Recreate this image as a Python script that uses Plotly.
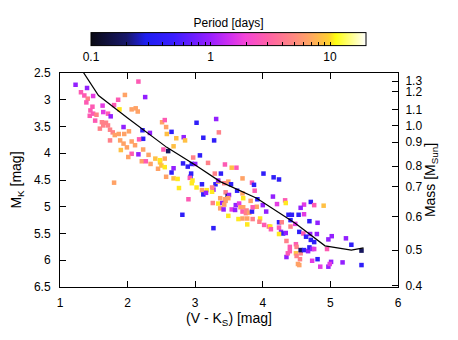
import numpy as np
import plotly.graph_objects as go

# colour classes -> rotation period in days
P = dict(n=0.18, b=0.40, v=0.95, m=1.7, p=2.7, s=4.5, o=6.5, yo=8.5, y=10.5)

stars = [
    (1.23, 2.72, "v"), (1.40, 2.78, "v"), (2.16, 2.66, "p"), (1.31, 2.86, "p"), (1.36, 2.92, "p"),
    (1.49, 2.93, "m"), (1.41, 2.98, "s"), (1.39, 3.05, "p"), (1.96, 2.91, "o"), (2.26, 2.95, "v"),
    (1.86, 3.00, "p"), (1.48, 3.13, "p"), (1.63, 3.11, "m"), (1.80, 3.10, "p"), (1.88, 3.18, "y"),
    (2.06, 3.18, "o"), (2.12, 3.16, "o"), (2.15, 3.22, "o"), (1.45, 3.20, "p"), (1.49, 3.26, "p"),
    (1.54, 3.28, "s"), (1.44, 3.30, "p"), (1.64, 3.23, "m"), (1.71, 3.26, "p"), (1.75, 3.31, "v"),
    (1.52, 3.39, "p"), (1.62, 3.42, "s"), (1.68, 3.43, "s"), (1.71, 3.48, "s"), (1.64, 3.48, "s"),
    (1.59, 3.54, "s"), (1.94, 3.51, "v"), (1.74, 3.56, "s"), (1.78, 3.61, "s"), (1.81, 3.66, "o"),
    (1.87, 3.64, "o"), (1.95, 3.64, "o"), (2.02, 3.59, "o"), (2.22, 3.57, "b"), (2.33, 3.62, "v"),
    (2.23, 3.73, "b"), (2.17, 3.74, "p"), (2.51, 3.42, "o"), (2.55, 3.38, "p"), (2.57, 3.51, "o"),
    (2.58, 3.64, "yo"), (1.74, 3.76, "s"), (1.89, 3.76, "o"), (1.94, 3.82, "o"), (2.06, 3.78, "o"),
    (2.11, 3.85, "o"), (1.99, 3.89, "o"), (1.90, 3.94, "yo"), (2.06, 4.01, "p"), (2.16, 4.02, "v"),
    (2.23, 3.93, "o"), (2.01, 4.07, "o"), (2.21, 4.15, "o"), (2.31, 4.03, "o"), (2.41, 4.10, "yo"),
    (2.27, 4.15, "p"), (2.34, 4.20, "o"), (2.48, 4.17, "yo"), (2.55, 4.10, "o"), (2.45, 4.29, "o"),
    (2.50, 4.23, "yo"), (2.60, 3.96, "n"), (2.53, 3.93, "p"), (1.80, 4.55, "o"),
    (2.65, 3.60, "b"), (3.02, 3.43, "b"), (3.31, 3.36, "v"), (3.35, 3.61, "s"), (2.83, 3.70, "v"),
    (2.85, 3.76, "yo"), (2.72, 3.72, "yo"), (3.12, 3.71, "b"), (3.28, 3.76, "b"), (2.68, 3.87, "yo"),
    (2.97, 4.08, "s"), (3.07, 4.04, "b"), (3.19, 4.18, "s"), (3.44, 4.21, "p"), (3.54, 4.27, "yo"),
    (3.61, 4.27, "p"), (2.82, 4.19, "b"), (2.89, 4.25, "b"), (2.95, 4.20, "b"), (3.00, 4.20, "v"),
    (2.68, 4.28, "v"), (2.65, 4.36, "b"), (2.55, 4.26, "y"), (2.57, 4.44, "o"), (2.68, 4.47, "yo"),
    (2.74, 4.48, "y"), (2.76, 4.65, "y"), (2.94, 4.38, "b"), (2.93, 4.44, "b"), (2.92, 4.46, "p"),
    (2.96, 4.51, "y"), (2.95, 4.56, "y"), (3.02, 4.64, "y"), (3.10, 4.58, "b"), (3.10, 4.69, "o"),
    (3.29, 4.38, "s"), (3.38, 4.38, "b"), (3.30, 4.58, "b"), (3.27, 4.68, "v"), (3.17, 4.69, "y"),
    (3.12, 4.77, "b"), (3.16, 4.74, "v"), (3.25, 4.72, "y"), (3.34, 4.53, "yo"), (3.49, 4.53, "o"),
    (3.43, 4.56, "s"), (3.53, 4.58, "b"), (3.70, 4.47, "o"), (3.62, 4.70, "b"), (3.70, 4.75, "o"),
    (3.45, 4.73, "s"), (3.48, 4.80, "n"), (3.50, 4.78, "v"), (3.84, 4.55, "p"), (3.87, 4.59, "b"),
    (3.88, 4.70, "p"), (4.01, 4.38, "b"), (2.90, 4.86, "p"), (3.37, 4.84, "o"), (3.49, 4.84, "o"),
    (3.71, 4.84, "y"), (2.48, 4.13, "y"),
    (3.25, 4.64, "s"), (3.34, 4.51, "v"), (3.44, 4.86, "o"), (3.26, 4.93, "s"), (3.34, 4.94, "y"),
    (3.40, 4.93, "v"), (3.43, 4.96, "o"), (3.45, 4.89, "o"), (2.81, 5.15, "b"), (3.37, 5.03, "o"),
    (3.42, 5.05, "v"), (3.54, 5.05, "m"), (3.49, 5.17, "y"), (3.60, 4.97, "v"), (3.65, 4.94, "m"),
    (3.67, 5.01, "o"), (3.59, 5.06, "v"), (3.71, 5.01, "o"), (3.70, 5.09, "p"), (3.76, 5.07, "s"),
    (3.75, 5.12, "s"), (3.80, 5.11, "o"), (3.84, 5.09, "b"), (3.82, 4.89, "o"), (3.91, 5.00, "o"),
    (3.85, 5.01, "p"), (3.64, 5.23, "y"), (3.70, 5.22, "o"), (3.77, 5.22, "o"), (3.85, 5.23, "s"),
    (3.77, 5.33, "y"), (3.27, 5.40, "b"), (3.92, 4.86, "b"), (4.00, 4.97, "v"), (4.05, 5.09, "v"),
    (3.96, 5.22, "y"), (3.95, 5.28, "s"), (4.02, 5.34, "p"), (4.09, 5.37, "s"),
    (4.16, 4.45, "b"), (4.24, 4.49, "b"), (4.15, 4.81, "v"), (4.33, 4.88, "p"),
    (4.34, 4.93, "y"), (4.21, 4.95, "m"), (4.71, 4.91, "b"), (4.61, 4.96, "m"), (4.76, 4.97, "p"),
    (4.90, 4.98, "yo"), (4.56, 5.02, "v"), (4.38, 5.15, "b"), (4.43, 5.15, "b"), (4.53, 5.15, "b"),
    (4.61, 5.14, "m"), (4.41, 5.25, "b"), (4.69, 5.27, "b"), (4.81, 5.30, "v"), (4.24, 5.29, "b"),
    (4.28, 5.29, "s"), (4.48, 5.32, "m"), (4.11, 5.37, "y"), (4.12, 5.42, "p"), (4.24, 5.39, "p"),
    (4.41, 5.37, "s"), (4.27, 5.47, "v"), (4.30, 5.50, "b"), (4.34, 5.49, "v"), (4.24, 5.51, "y"),
    (4.54, 5.47, "b"), (4.60, 5.50, "p"), (4.70, 5.51, "v"), (4.80, 5.51, "v"), (4.64, 5.56, "b"),
    (4.71, 5.62, "b"), (4.76, 5.66, "b"), (5.02, 5.55, "v"), (4.97, 5.61, "v"), (5.23, 5.59, "v"),
    (5.31, 5.71, "b"), (4.35, 5.64, "s"), (4.49, 5.70, "p"), (4.50, 5.75, "s"), (4.40, 5.75, "p"),
    (4.40, 5.83, "p"), (4.49, 5.87, "yo"), (4.56, 5.87, "s"), (4.50, 5.92, "s"), (4.56, 5.81, "n"),
    (4.61, 5.81, "b"), (4.67, 5.83, "v"), (4.69, 5.76, "b"), (4.73, 5.79, "v"), (4.76, 5.79, "m"),
    (4.95, 5.79, "p"), (4.35, 5.94, "v"), (4.37, 5.87, "p"), (4.55, 5.98, "s"), (4.52, 6.07, "o"),
    (4.54, 6.09, "o"), (4.73, 6.01, "m"), (4.81, 5.98, "b"), (4.85, 6.12, "m"), (4.97, 6.12, "v"),
    (5.01, 6.03, "v"), (4.99, 6.07, "m"), (5.18, 6.04, "v"), (5.46, 6.09, "b"), (5.46, 5.82, "n"),
]

vk = [s[0] for s in stars]
mk = [s[1] for s in stars]
period = [P[s[2]] for s in stars]

# model sequence
vk_iso = [1.30, 1.57, 2.00, 2.58, 3.00, 3.37, 3.91, 4.48, 4.92, 5.31, 5.49]
mk_iso = [2.40, 2.92, 3.34, 3.89, 4.22, 4.53, 4.84, 5.31, 5.73, 5.81, 5.77]

# mass axis: tick positions in M_K
mass_mk = [2.65, 2.85, 3.18, 3.49, 3.79, 4.24, 4.63, 5.19, 5.81, 6.47]
mass_lbl = ["1.3", "1.2", "1.1", "1.0", "0.9", "0.8", "0.7", "0.6", "0.5", "0.4"]

cb_ticks = [0.1 * k for k in range(1, 10)] + [1.0 * k for k in range(1, 10)] + [10.0 * k for k in range(1, 3)]
cb_text = ["0.1" if v == 0.1 else "1" if v == 1.0 else "10" if v == 10.0 else "" for v in cb_ticks]

pal = [
    [0.00, "#0a0a14"], [0.13, "#18186a"], [0.20, "#1e1ef0"], [0.30, "#3a1eff"],
    [0.37, "#6a1eff"], [0.435, "#9a20ff"], [0.505, "#d030f0"], [0.56, "#f445d8"],
    [0.64, "#ff60a8"], [0.74, "#ff8a80"], [0.80, "#ffa860"], [0.865, "#ffd030"],
    [0.89, "#ffff10"], [1.00, "#ffffff"],
]

FONT = "Liberation Sans, Arial, sans-serif"

fig = go.Figure()
fig.add_trace(go.Scatter(
    x=vk, y=mk, mode="markers",
    marker=dict(
        symbol="square", size=4.5, line=dict(width=0),
        color=np.log10(period), colorscale=pal, cmin=-1, cmax=np.log10(20),
        colorbar=dict(
            orientation="h", x=0.4985, xanchor="center", y=1.017, yanchor="bottom",
            lenmode="pixels", len=275, thickness=13, xpad=0, ypad=0,
            outlinecolor="black", outlinewidth=1,
            tickvals=np.log10(cb_ticks), ticktext=cb_text, tickangle=0,
            ticks="inside", ticklen=4, tickcolor="black",
            tickfont=dict(size=12, family=FONT, color="black"),
            title=dict(text="Period [days]", side="top", font=dict(size=12, family=FONT, color="black")),
        ),
    ),
    showlegend=False,
))
fig.add_trace(go.Scatter(
    x=vk_iso, y=mk_iso, mode="lines",
    line=dict(color="black", width=1.2), showlegend=False,
))
# dummy trace to activate the mass axis
fig.add_trace(go.Scatter(x=[None], y=[None], yaxis="y2", showlegend=False))

ax_common = dict(
    showline=True, linecolor="black", linewidth=1, showgrid=False, zeroline=False,
    ticks="inside", ticklen=6, tickcolor="black", automargin=False,
    tickfont=dict(size=12, family=FONT, color="black"),
)

# the page body adds an 8 px offset, so margins are shifted by that much
fig.update_layout(
    width=458, height=340,
    margin=dict(l=52, r=68, t=65, b=61, autoexpand=False),
    paper_bgcolor="white", plot_bgcolor="white",
    font=dict(family=FONT, size=12, color="black"),
    xaxis=dict(
        range=[1, 6], tickvals=[1, 2, 3, 4, 5, 6], mirror="ticks", ticklabelstandoff=5,
        title=dict(text="(V - K<sub>S</sub>) [mag]", standoff=15), **ax_common,
    ),
    yaxis=dict(
        range=[6.5, 2.5], tickvals=[2.5, 3, 3.5, 4, 4.5, 5, 5.5, 6, 6.5],
        ticktext=["2.5", "3", "3.5", "4", "4.5", "5", "5.5", "6", "6.5"],
        ticklabelstandoff=6,
        title=dict(text="M<sub>K</sub> [mag]", standoff=0), **ax_common,
    ),
    yaxis2=dict(
        overlaying="y", side="right", range=[6.5, 2.5],
        tickvals=mass_mk, ticktext=mass_lbl, ticklabelstandoff=4,
        title=dict(text="Mass [M<sub>Sun</sub>]", standoff=10), **ax_common,
    ),
)

fig.write_html("out.html")
